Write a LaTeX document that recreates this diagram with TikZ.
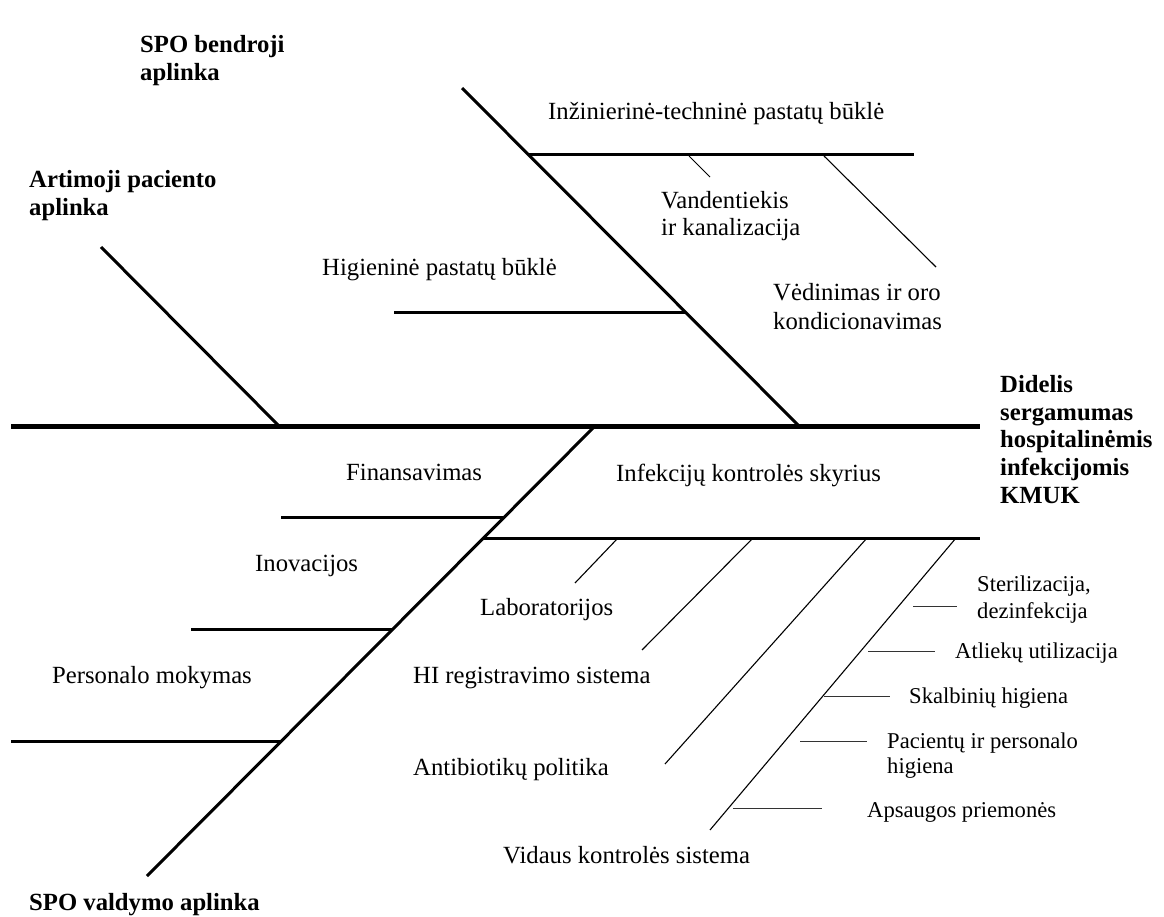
\documentclass[tikz,border=0pt]{standalone}
\usepackage{fontspec}
\setmainfont{Liberation Serif}
\begin{document}
\begin{tikzpicture}[x=1pt,y=-1pt,
  spine/.style={line width=5pt},
  bone/.style={line width=3pt},
  rib/.style={line width=3pt},
  twig/.style={line width=1.1pt},
  tick/.style={line width=0.8pt,black!80},
  lbl/.style={anchor=base west,inner sep=0pt,font=\fontsize{24.7}{28}\selectfont},
  small/.style={anchor=base west,inner sep=0pt,font=\fontsize{22.6}{26}\selectfont},
  head/.style={anchor=base west,inner sep=0pt,font=\fontsize{24.7}{28}\selectfont\bfseries},
]
\fill[white] (0,0) rectangle (1164,917);
\useasboundingbox (0,0) rectangle (1164,917);

% ---- skeleton points ----
\coordinate (sp0) at (11,426);   \coordinate (sp1) at (980,426);
% upper bones
\coordinate (b1a) at (462,88);   \coordinate (b1b) at (799,426);
\coordinate (b2a) at (101,247);  \coordinate (b2b) at (279,426);
% lower bone
\coordinate (b3a) at (595,426);  \coordinate (b3b) at (147,876);
% ribs on the upper bone
\coordinate (r1a) at (529,155);  \coordinate (r1b) at (914,155);
\coordinate (r2a) at (394,312);  \coordinate (r2b) at (686,312);
% twigs on the engineering rib
\coordinate (t1a) at (689,156);  \coordinate (t1b) at (710,177);
\coordinate (t2a) at (824,156);  \coordinate (t2b) at (936,267);
% ribs on the lower bone
\coordinate (r3a) at (281,517);  \coordinate (r3b) at (504,517);
\coordinate (r4a) at (191,629);  \coordinate (r4b) at (392,629);
\coordinate (r5a) at (11,741);   \coordinate (r5b) at (280,741);
\coordinate (r6a) at (483,538);  \coordinate (r6b) at (980,538);
% twigs on the infection control rib
\coordinate (t3a) at (618,538);  \coordinate (t3b) at (575,583);
\coordinate (t4a) at (753,538);  \coordinate (t4b) at (642,650);
\coordinate (t5a) at (867,538);  \coordinate (t5b) at (665,764);
\coordinate (t6a) at (956,538);  \coordinate (t6b) at (710,830);
% short ticks beside the internal control twig
\coordinate (k1a) at (913,606);  \coordinate (k1b) at (957,606);
\coordinate (k2a) at (868,651);  \coordinate (k2b) at (935,651);
\coordinate (k3a) at (824,696);  \coordinate (k3b) at (890,696);
\coordinate (k4a) at (800,741);  \coordinate (k4b) at (867,741);
\coordinate (k5a) at (733,808);  \coordinate (k5b) at (822,808);

% ---- lines ----
\draw[spine] (sp0) -- (sp1);
\draw[bone] (b1a) -- (b1b);
\draw[bone] (b2a) -- (b2b);
\draw[bone] (b3a) -- (b3b);
\foreach \r in {r1,r2,r3,r4,r5,r6} \draw[rib] (\r a) -- (\r b);
\draw[line width=1pt] (t1a) -- (t1b);
\foreach \t in {t2,t3,t4,t5,t6} \draw[twig] (\t a) -- (\t b);
\foreach \k in {k1,k2,k3,k4,k5} \draw[tick] (\k a) -- (\k b);

% ---- category headings ----
\node[head] (hSpoB1) at (140,53) {SPO bendroji};
\node[head] (hSpoB2) at (140,81) {aplinka};
\node[head] (hArt1) at (29,188) {Artimoji paciento};
\node[head] (hArt2) at (29,216) {aplinka};
\node[head] (hSpoV) at (29,910) {SPO valdymo aplinka};
% effect
\node[head] (e1) at (1000,392) {Didelis};
\node[head] (e2) at (1000,420) {sergamumas};
\node[head] (e3) at (1000,447) {hospitalinėmis};
\node[head] (e4) at (1000,475) {infekcijomis};
\node[head] (e5) at (1000,503) {KMUK};

% ---- causes ----
\node[lbl] (inz) at (548,120) {Inžinierinė-techninė pastatų būklė};
\node[lbl] (van1) at (661,209) {Vandentiekis};
\node[lbl] (van2) at (661,236) {ir kanalizacija};
\node[lbl] (ved1) at (773,301) {Vėdinimas ir oro};
\node[lbl] (ved2) at (773,329) {kondicionavimas};
\node[lbl] (hig) at (322,276) {Higieninė pastatų būklė};
\node[lbl] (fin) at (346,480) {Finansavimas};
\node[lbl] (iks) at (616,481) {Infekcijų kontrolės skyrius};
\node[lbl] (ino) at (255,571) {Inovacijos};
\node[lbl] (per) at (52,683) {Personalo mokymas};
\node[lbl] (lab) at (480,615) {Laboratorijos};
\node[lbl] (hir) at (413,683) {HI registravimo sistema};
\node[lbl] (abp) at (413,775) {Antibiotikų politika};
\node[lbl] (vks) at (503,863) {Vidaus kontrolės sistema};
\node[small] (ste1) at (977,591) {Sterilizacija,};
\node[small] (ste2) at (977,618) {dezinfekcija};
\node[small] (atl) at (955,658) {Atliekų utilizacija};
\node[small] (ska) at (909,703) {Skalbinių higiena};
\node[small] (pac1) at (887,748) {Pacientų ir personalo};
\node[small] (pac2) at (887,773) {higiena};
\node[small] (aps) at (867,817) {Apsaugos priemonės};
\end{tikzpicture}
\end{document}
